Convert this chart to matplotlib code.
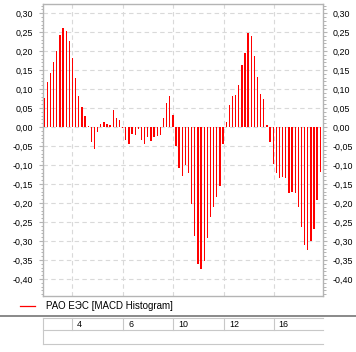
import matplotlib
matplotlib.use('Agg')
import matplotlib.pyplot as plt
from matplotlib.lines import Line2D
from matplotlib.ticker import MultipleLocator, FuncFormatter
import matplotlib.transforms as mtransforms

plt.rcParams['font.family'] = ['Liberation Sans', 'DejaVu Sans']

# MACD histogram values, one per bar
hist = [
    0.076, 0.118, 0.142, 0.171, 0.200, 0.242, 0.260, 0.252, 0.226, 0.181,
    0.129, 0.082, 0.053, 0.029, 0.003, -0.039, -0.058, -0.013, 0.008, 0.013,
    0.008, 0.005, 0.045, 0.024, 0.018, -0.003, -0.034, -0.045, -0.018, -0.021,
    -0.005, -0.034, -0.045, -0.026, -0.037, -0.026, -0.024, -0.021, 0.024, 0.063,
    0.082, 0.032, -0.050, -0.107,
    -0.128, -0.099, -0.120, -0.204, -0.286, -0.362, -0.375, -0.354, -0.291, -0.236,
    -0.210, -0.183, -0.154, -0.044,
    0.013, 0.058, 0.082, 0.084, 0.110, 0.163, 0.195, 0.247, 0.239, 0.187,
    0.132, 0.087, 0.074, 0.005,
    -0.039, -0.097, -0.120, -0.133, -0.131, -0.133, -0.175, -0.170, -0.173, -0.210,
    -0.262, -0.312, -0.323, -0.299, -0.268, -0.191, -0.118,
]
# day boundaries (bar index) and their labels
day_ticks = [8.85, 25.1, 41.2, 57.3, 73.1]
day_labels = ['4', '6', '10', '12', '16']
legend_text = 'РАО ЕЭС [MACD Histogram]'

W, H = 356, 352
fig = plt.figure(figsize=(W / 100, H / 100), dpi=100)
ax = fig.add_axes([43 / W, 1 - 296 / H, 280 / W, 292 / H])

grid_c = '#d9d9d9'
axis_c = '#b4b4b4'

ax.bar(range(len(hist)), hist, width=0.42, color='#ff0000', zorder=3)
ax.set_xlim(-0.41, 88.87)
ax.set_ylim(-0.445, 0.324)

ax.set_xticks(day_ticks)
ax.tick_params(axis='x', length=0, labelbottom=False)
ax.yaxis.set_major_locator(MultipleLocator(0.05))
ax.yaxis.set_minor_locator(MultipleLocator(0.01))
ax.yaxis.set_major_formatter(FuncFormatter(lambda v, p: f'{v:.2f}'.replace('.', ',').replace('-0,00', '0,00')))
ax.tick_params(axis='y', which='major', length=3, width=0.8, color=axis_c,
               labelsize=6.4, pad=4, left=True, right=True,
               labelleft=True, labelright=True)
ax.tick_params(axis='y', which='minor', length=1.8, width=0.7, color=axis_c,
               left=True, right=True)

ax.grid(True, which='major', color=grid_c, linestyle=(0, (4, 3)), linewidth=0.8)
for s in ax.spines.values():
    s.set_color(axis_c)
    s.set_linewidth(1.0)

# legend row
fig.add_artist(Line2D([20 / W, 35 / W], [1 - 306 / H] * 2, color='#ff0000', lw=0.9))
fig.text(46 / W, 1 - 306 / H, legend_text, fontsize=7, va='center', ha='left')

# separator and date table
fig.add_artist(Line2D([0, 1], [1 - 316 / H] * 2, color='#808080', lw=1.3))
tc = '#c8c8c8'
for yy in (318, 330, 344):
    fig.add_artist(Line2D([43 / W, 323 / W], [1 - yy / H] * 2, color=tc, lw=0.8))
fig.add_artist(Line2D([43 / W, 43 / W], [1 - 318 / H, 1 - 344 / H], color=tc, lw=0.8))
blend = mtransforms.blended_transform_factory(ax.transData, fig.transFigure)
for x, lab in zip(day_ticks, day_labels):
    fig.add_artist(Line2D([x, x], [1 - 318 / H, 1 - 330 / H], color=tc, lw=0.8, transform=blend))
    t = fig.text(x, 1 - 324.5 / H, lab, fontsize=6.4, va='center', ha='left', transform=blend)
    t.set_transform(blend + mtransforms.ScaledTranslation(5 / 100, 0, fig.dpi_scale_trans))

fig.savefig('out.png', dpi=100)
